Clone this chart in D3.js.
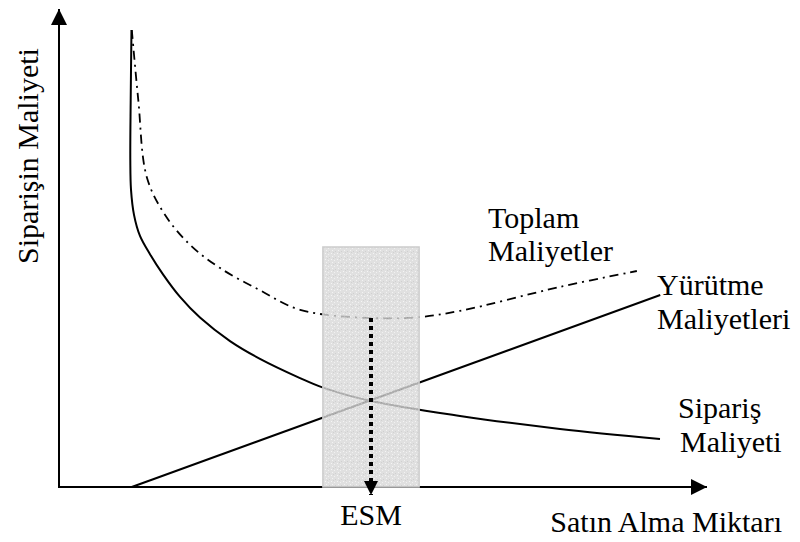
<!DOCTYPE html>
<html><head><meta charset="utf-8">
<script src="https://cdn.jsdelivr.net/npm/d3@7"></script>
<style>html,body{margin:0;padding:0;background:#fff;}svg{display:block;}</style>
</head><body>
<svg id="chart" width="800" height="542"></svg>
<script>
// Data in abstract units (x: quantity 0-100, y: cost 0-100)
const orderCostX = [11.15, 11.03, 10.97, 11.08, 11.54, 12.46, 14.0, 16.0, 18.62, 21.69, 26.31, 30.92, 37.08, 40.62, 48.0, 61.69, 77.08, 92.46];
const orderCostY = [95.2, 80.6, 68.1, 61.9, 56.7, 52.3, 48.5, 44.3, 39.6, 35.3, 30.4, 26.7, 22.7, 20.7, 17.9, 14.8, 12.1, 10.0];
const carryCostX = [11.2, 92.5];
const carryCostY = [0, 40];
const totalCostX = [11.2, 12.2, 13.5, 16.3, 20.2, 24.8, 30.9, 37.1, 48.0, 55.4, 61.7, 77.1, 88.9];
const totalCostY = [95.2, 80.6, 64.6, 56.7, 50.4, 45.6, 41.0, 36.9, 35.2, 35.4, 36.7, 41.7, 45.0];
const bandX = [40.6, 55.4];
const bandTop = 50.0;
const esmX = 48.0;
const esmY = 35.2;

const svg = d3.select("#chart");
const x = d3.scaleLinear().domain([0, 100]).range([59, 709]);
const y = d3.scaleLinear().domain([0, 100]).range([487, 7]);

const font = "'Liberation Serif','Times New Roman',serif";

// pattern for shaded band
const defs = svg.append("defs");
const pat = defs.append("pattern").attr("id","tex").attr("width",6).attr("height",6).attr("patternUnits","userSpaceOnUse");
pat.append("rect").attr("width",6).attr("height",6).attr("fill","#d8d8d8");
pat.append("rect").attr("x",1).attr("y",1).attr("width",1).attr("height",1).attr("fill","#f2f2f2");
pat.append("rect").attr("x",4).attr("y",2).attr("width",1).attr("height",1).attr("fill","#eeeeee");
pat.append("rect").attr("x",2).attr("y",4).attr("width",1).attr("height",1).attr("fill","#f0f0f0");
pat.append("rect").attr("x",5).attr("y",5).attr("width",1).attr("height",1).attr("fill","#c4c4c4");
pat.append("rect").attr("x",3).attr("y",0).attr("width",1).attr("height",1).attr("fill","#c6c6c6");

defs.append("marker").attr("id","arrowAxis").attr("viewBox","0 0 10 10").attr("refX",10).attr("refY",5)
  .attr("markerWidth",16).attr("markerHeight",16).attr("markerUnits","userSpaceOnUse").attr("orient","auto")
  .append("path").attr("d","M0,0 L10,5 L0,10 Z").attr("fill","#000");
defs.append("marker").attr("id","arrowEsm").attr("viewBox","0 0 10 10").attr("refX",10).attr("refY",5)
  .attr("markerWidth",15).attr("markerHeight",14).attr("markerUnits","userSpaceOnUse").attr("orient","auto")
  .append("path").attr("d","M0,0 L10,5 L0,10 Z").attr("fill","#000");

const lineC = d3.line().x(d => x(d[0])).y(d => y(d[1])).curve(d3.curveCatmullRom.alpha(0.5));

// axes
const xAxis = d3.axisBottom(x).tickValues([]).tickSize(0);
const yAxis = d3.axisLeft(y).tickValues([]).tickSize(0);
svg.append("g").attr("transform",`translate(0,${y(0)})`).call(xAxis)
  .select(".domain").attr("d",`M${x(0)},0H${x(100)-2}`).attr("stroke","#000").attr("stroke-width",2).attr("marker-end","url(#arrowAxis)");
svg.append("g").attr("transform",`translate(${x(0)},0)`).call(yAxis)
  .select(".domain").attr("d",`M0,${y(0)+1}V${y(100)+2}`).attr("stroke","#000").attr("stroke-width",2).attr("marker-end","url(#arrowAxis)");

// curves
const orderPts = orderCostX.map((v,i)=>[v, orderCostY[i]]);
const totalPts = totalCostX.map((v,i)=>[v, totalCostY[i]]);
const carryPts = carryCostX.map((v,i)=>[v, carryCostY[i]]);

svg.append("path").attr("d", lineC(orderPts)).attr("fill","none").attr("stroke","#000").attr("stroke-width",2);
svg.append("path").attr("d", d3.line().x(d=>x(d[0])).y(d=>y(d[1]))(carryPts)).attr("fill","none").attr("stroke","#000").attr("stroke-width",2);
svg.append("path").attr("d", lineC(totalPts)).attr("fill","none").attr("stroke","#000").attr("stroke-width",1.8)
  .attr("stroke-dasharray","9,5,2,5");

// shaded band (on top, semi-transparent)
svg.append("rect").attr("x", x(bandX[0])).attr("y", y(bandTop))
  .attr("width", x(bandX[1]) - x(bandX[0])).attr("height", y(0) - y(bandTop))
  .attr("fill","url(#tex)").attr("fill-opacity",0.8).attr("stroke","#cccccc").attr("stroke-width",1.5);

// ESM dotted arrow
svg.append("line").attr("x1", x(esmX)).attr("y1", y(esmY)).attr("x2", x(esmX)).attr("y2", y(0)+8)
  .attr("stroke","#000").attr("stroke-width",4).attr("stroke-dasharray","4,4").attr("marker-end","url(#arrowEsm)");

// labels
function label(txt, px, py, anchor){
  svg.append("text").attr("x",px).attr("y",py).attr("font-family",font).attr("font-size",30)
    .attr("text-anchor",anchor||"start").attr("fill","#000").text(txt);
}
label("Toplam", 488, 228);
label("Maliyetler", 488, 261);
label("Yürütme", 657, 295);
label("Maliyetleri", 657, 329);
label("Sipariş", 678, 418);
label("Maliyeti", 680, 452);
label("ESM", x(esmX), 525, "middle");
label("Satın Alma Miktarı", 782, 532, "end");
svg.append("text").attr("transform","translate(38,156) rotate(-90)").attr("font-family",font).attr("font-size",30)
  .attr("text-anchor","middle").text("Siparişin Maliyeti");
</script>
</body></html>
